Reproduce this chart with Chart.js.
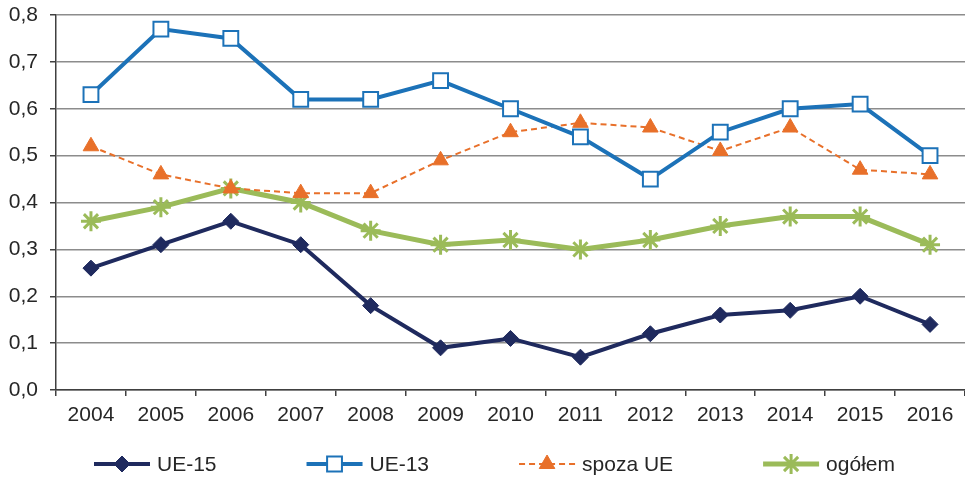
<!DOCTYPE html>
<html>
<head>
<meta charset="utf-8">
<script src="https://cdn.jsdelivr.net/npm/chart.js@4/dist/chart.umd.min.js"></script>
<style>
  html, body { margin: 0; padding: 0; background: #fff; }
  #wrap { width: 965px; height: 478px; }
</style>
</head>
<body>
<div id="wrap"><canvas id="chart"></canvas></div>
<script>
const years = ['2004','2005','2006','2007','2008','2009','2010','2011','2012','2013','2014','2015','2016'];
const ue15 = [0.26, 0.31, 0.36, 0.31, 0.18, 0.09, 0.11, 0.07, 0.12, 0.16, 0.17, 0.20, 0.14];
const ue13 = [0.63, 0.77, 0.75, 0.62, 0.62, 0.66, 0.60, 0.54, 0.45, 0.55, 0.60, 0.61, 0.50];
const spozaUE = [0.52, 0.46, 0.43, 0.42, 0.42, 0.49, 0.55, 0.57, 0.56, 0.51, 0.56, 0.47, 0.46];
const ogolem = [0.36, 0.39, 0.43, 0.40, 0.34, 0.31, 0.32, 0.30, 0.32, 0.35, 0.37, 0.37, 0.31];
const seriesNames = ['UE-15', 'UE-13', 'spoza UE', 'ogółem'];

const FONT = { family: '"Liberation Sans", Arial, sans-serif', size: 21 };
const TEXT = '#262626';
const AXIS = '#404040';

// legend drawn under the plot: line sample with the marker in the middle, then the label
const bottomLegend = {
  id: 'bottomLegend',
  afterDraw(chart){
    const ctx = chart.ctx;
    const y = 464;
    let x = 94;
    ctx.save();
    ctx.font = `${FONT.size}px ${FONT.family}`;
    ctx.textBaseline = 'middle';
    chart.data.datasets.forEach(ds => {
      ctx.strokeStyle = ds.borderColor;
      ctx.lineWidth = ds.borderWidth;
      ctx.setLineDash(ds.borderDash || []);
      ctx.beginPath();
      ctx.moveTo(x, y);
      ctx.lineTo(x + 56, y);
      ctx.stroke();
      ctx.setLineDash([]);
      ctx.fillStyle = ds.pointBackgroundColor;
      ctx.strokeStyle = ds.pointBorderColor;
      ctx.lineWidth = ds.pointBorderWidth;
      Chart.helpers.drawPoint(ctx, { pointStyle: ds.pointStyle, radius: ds.pointRadius, borderWidth: ds.pointBorderWidth, rotation: 0 }, x + 28, y);
      ctx.fillStyle = TEXT;
      ctx.fillText(ds.label, x + 63, y + 1);
      x += 63 + ctx.measureText(ds.label).width + 90;
    });
    ctx.restore();
  }
};

new Chart(document.getElementById('chart'), {
  type: 'line',
  data: {
    labels: years,
    datasets: [
      { label: seriesNames[0], data: ue15, borderColor: '#1f2a5e', borderWidth: 4,
        pointStyle: 'rectRot', pointRadius: 8, pointBackgroundColor: '#1f2a5e', pointBorderColor: '#1f2a5e', pointBorderWidth: 1 },
      { label: seriesNames[1], data: ue13, borderColor: '#1c72b8', borderWidth: 4,
        pointStyle: 'rect', pointRadius: 10.5, pointBackgroundColor: '#ffffff', pointBorderColor: '#1c72b8', pointBorderWidth: 2 },
      { label: seriesNames[2], data: spozaUE, borderColor: '#e8702a', borderWidth: 2, borderDash: [6, 4],
        pointStyle: 'triangle', pointRadius: 9, pointBackgroundColor: '#e8702a', pointBorderColor: '#e8702a', pointBorderWidth: 1 },
      { label: seriesNames[3], data: ogolem, borderColor: '#9bbb59', borderWidth: 5,
        pointStyle: 'star', pointRadius: 10, pointBackgroundColor: '#9bbb59', pointBorderColor: '#9bbb59', pointBorderWidth: 3 }
    ]
  },
  options: {
    responsive: true,
    maintainAspectRatio: false,
    devicePixelRatio: 1,
    animation: false,
    layout: { autoPadding: false, padding: { top: 15, right: 0, bottom: 50, left: 0 } },
    plugins: { legend: { display: false }, tooltip: { enabled: false } },
    elements: { line: { tension: 0 } },
    scales: {
      x: {
        offset: true,
        grid: { display: true, drawOnChartArea: false, offset: true, tickLength: 6, tickColor: AXIS, lineWidth: 1.5 },
        border: { color: AXIS, width: 1.5 },
        ticks: { font: FONT, color: TEXT, padding: 7, maxRotation: 0, autoSkip: false },
        afterFit: s => { s.height = 38; s.paddingLeft = 0; s.paddingRight = 0; }
      },
      y: {
        min: 0, max: 0.8,
        grid: { color: '#8c8c8c', lineWidth: 1.5, tickLength: 6, tickColor: AXIS },
        border: { color: AXIS, width: 1.5 },
        ticks: { stepSize: 0.1, font: FONT, color: TEXT, padding: 12,
          callback: v => v.toFixed(1).replace('.', ',') },
        afterFit: s => { s.width = 56; s.paddingTop = 0; s.paddingBottom = 0; }
      }
    }
  },
  plugins: [bottomLegend]
});
</script>
</body>
</html>
